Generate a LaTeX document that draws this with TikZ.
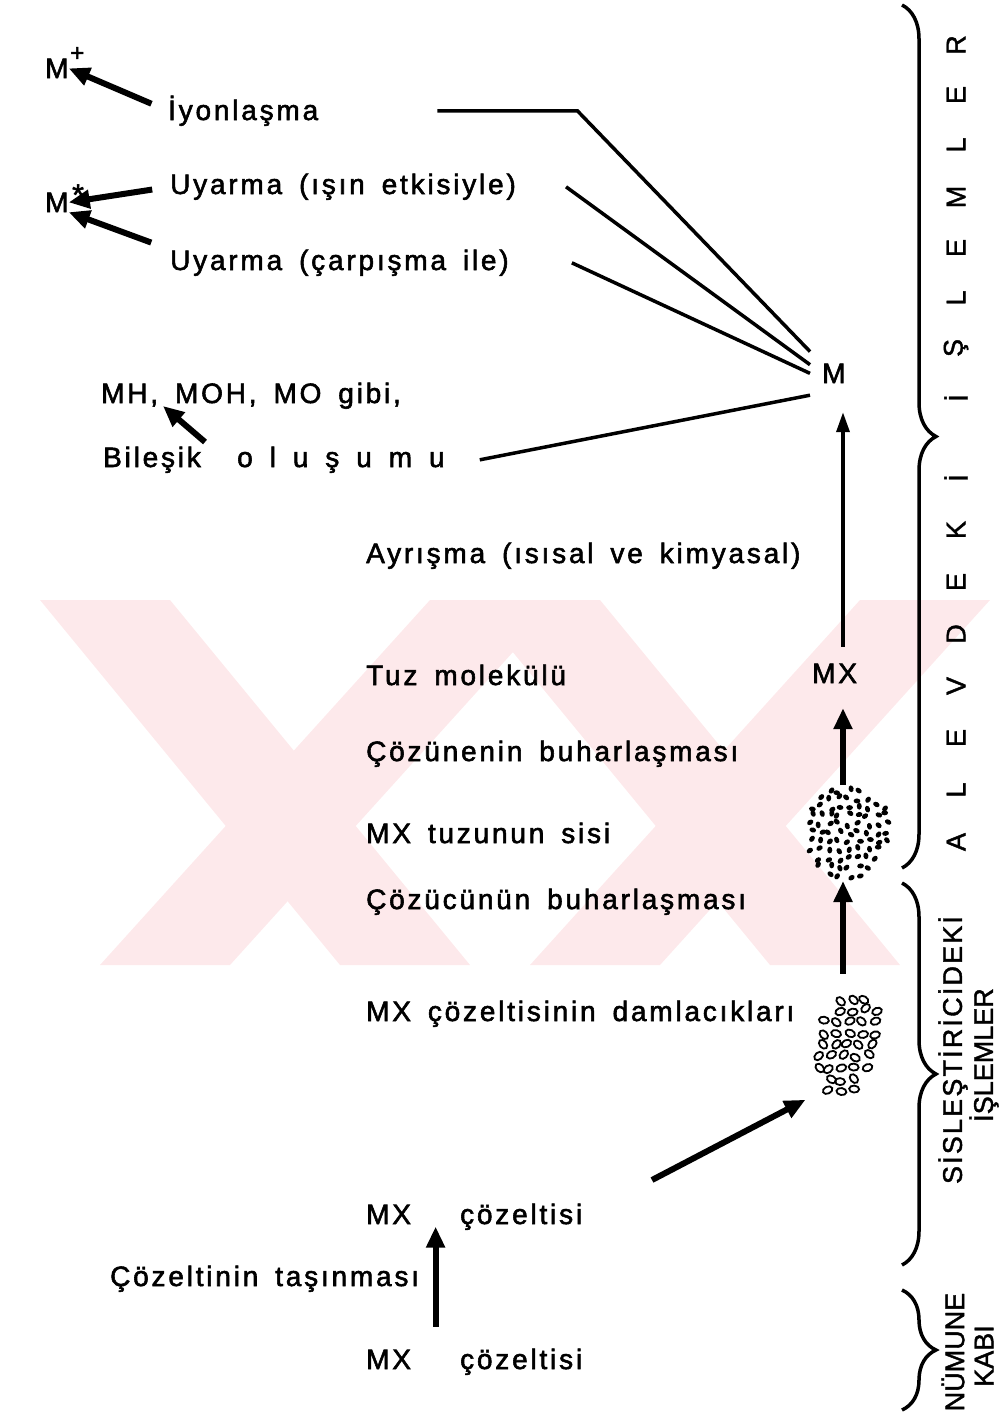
\documentclass[tikz,border=0pt]{standalone}
\usepackage{fontspec}
\setmainfont{Liberation Sans}[LetterSpace=10, WordSpace=1.6, FakeBold=2]
\newfontfamily\dikfont{Liberation Sans}[FakeBold=1.5]
\usetikzlibrary{arrows.meta, decorations.pathreplacing, calc}

\definecolor{filigran}{RGB}{253,233,235}

% tuz sisi: dolu noktalar
\newcommand{\sisbulut}{\tikz[x=1pt, y=1pt]{
  \pgfmathsetseed{11}
  \foreach \gx in {-4,...,4} {
    \foreach \gy in {-5,...,5} {
      \pgfmathsetmacro{\px}{\gx*9.5+2.8*rand}
      \pgfmathsetmacro{\py}{\gy*8.5+2.8*rand}
      \pgfmathsetmacro{\dn}{180*rnd}
      \pgfmathtruncatemacro{\ici}{(\px/43)^2+(\py/47)^2<1}
      \ifnum\ici=1 \fill[black, rotate around={\dn:(\px,\py)}] (\px,\py) ellipse (3.4 and 2.5); \fi
    }
  }
}}

% cozelti damlaciklari: halkalar
\newcommand{\damlabulut}{\tikz[x=1pt, y=1pt]{
  \pgfmathsetseed{23}
  \foreach \gx in {-3,...,3} {
    \foreach \gy in {-4,...,4} {
      \pgfmathsetmacro{\py}{\gy*11.5+2.5*rand}
      \pgfmathsetmacro{\px}{\gx*12.5+2.5*rand+0.15*\py}
      \pgfmathsetmacro{\dn}{50*rand}
      \pgfmathtruncatemacro{\ici}{((\px-0.15*\py)/34)^2+(\py/53)^2<1}
      \ifnum\ici=1 \draw[black, line width=1.8pt, rotate around={\dn:(\px,\py)}] (\px,\py) ellipse (5 and 3.5); \fi
    }
  }
}}

\begin{document}
\begin{tikzpicture}[x=1pt, y=-1pt,
    every node/.style={font=\fontsize{28}{32}\selectfont, inner sep=0pt},
    lbl/.style={anchor=base west},
    dik/.style={rotate=90, font=\dikfont\fontsize{27}{30}\selectfont},
    ok/.style={line width=6pt, -{Triangle[length=21pt, width=18pt]}},
    inceok/.style={line width=3.5pt, -{Triangle[length=20pt, width=13pt]}},
    bag/.style={line width=3.5pt},
    kume/.style={line width=3.5pt, decorate, decoration={brace, amplitude=34pt}}]
    \useasboundingbox (0,0) rectangle (1003,1413);

    % arka plandaki pembe seritler
    \fill[filigran] (40,600) -- (170,600) -- (470,965) -- (340,965) -- cycle;
    \fill[filigran] (430,600) -- (560,600) -- (230,965) -- (100,965) -- cycle;
    \fill[filigran] (470,600) -- (600,600) -- (900,965) -- (770,965) -- cycle;
    \fill[filigran] (860,600) -- (990,600) -- (660,965) -- (530,965) -- cycle;

    % sol ust: M+, M*
    \node[lbl] (mplus) at (45,78) {M};
    \node[lbl, font=\fontsize{24}{26}\selectfont] (mplusust) at (70,61) {+};
    \node[lbl] (myildiz) at (45,212) {M};
    \node[lbl, font=\fontsize{30}{32}\selectfont] (myildizust) at (72,205) {*};

    \node[lbl] (iyon) at (168,120) {İyonlaşma};
    \node[lbl] (uyarma1) at (170,194) {Uyarma (ışın etkisiyle)};
    \node[lbl] (uyarma2) at (170,270) {Uyarma (çarpışma ile)};
    \node[lbl] (bilesik1) at (101,403) {MH, MOH, MO gibi,};
    \node[lbl] (bilesik2) at (103,467) {Bileşik};
    \node[lbl] (olusum) at (237,467) {o l u ş u m u};
    \coordinate (bilesikkuyruk) at (205,442);
    \coordinate (bilesikok) at (163,406);

    % orta sutun
    \node[lbl, inner sep=12pt] (m) at (810,383) {M};
    \node[lbl] (ayrisma) at (366,563) {Ayrışma (ısısal ve kimyasal)};
    \node[lbl] (tuz) at (366,685) {Tuz molekülü};
    \node[lbl] (mx) at (812,683) {MX};
    \node[lbl] (cozunen) at (366,761) {Çözünenin buharlaşması};
    \node[lbl] (sis) at (366,843) {MX tuzunun sisi};
    \node[lbl] (cozucu) at (366,909) {Çözücünün buharlaşması};
    \node[lbl] (damla) at (366,1021) {MX çözeltisinin damlacıkları};
    \node[lbl] (mxc1) at (366,1224) {MX};
    \node[lbl] (cozelti1) at (460,1224) {çözeltisi};
    \node[lbl] (tasinma) at (110,1286) {Çözeltinin taşınması};
    \node[lbl] (mxc2) at (366,1369) {MX};
    \node[lbl] (cozelti2) at (460,1369) {çözeltisi};

    \node (sisbulut) at (849,833) {\sisbulut};
    \node (damlabulut) at (848,1045) {\damlabulut};
    \coordinate (eksen) at (843,0);
    \coordinate (puskurtme) at (652,1180);

    % M* ve M+ oklari
    \draw[ok, shorten <=18pt] (iyon.west) -- (mplus.east);
    \draw[ok, shorten <=18pt] (uyarma1.west) -- (myildiz.east);
    \draw[ok, shorten <=20pt] (uyarma2.north west) -- (myildiz.south east);
    \draw[ok] (bilesikkuyruk) -- (bilesikok);

    % M'ye baglanan cizgiler
    \draw[bag] ([xshift=119pt]iyon.east) -- ++(140,0) -- (m.north west);
    \draw[bag] ([xshift=50pt]uyarma1.east) -- (m.160);
    \draw[bag] ([xshift=63pt]uyarma2.east) -- (m.west);
    \draw[bag] ([xshift=35pt]olusum.east) -- (m.south west);

    % dikey oklar
    \draw[inceok, shorten <=17pt, shorten >=17pt] (mx.north -| eksen) -- (m.south -| eksen);
    \draw[ok, shorten >=25pt] (sisbulut.north -| eksen) -- (mx.south -| eksen);
    \draw[ok, shorten <=20pt] (damlabulut.north -| eksen) -- (sisbulut.south -| eksen);
    \draw[ok, shorten >=8pt] (puskurtme) -- (damlabulut.south west);
    \draw[ok] ($(mxc2.east)!.5!(cozelti2.west)+(0,-34)$) -- ($(mxc1.east)!.5!(cozelti1.west)+(0,11)$);

    % kume parantezleri
    \draw[kume] (902,5) -- (902,868);
    \draw[kume] (902,883) -- (902,1265);
    \draw[kume] (902,1290) -- (902,1410);

    % dikey yazilar
    \foreach \harf/\yy in {A/842, L/790, E/738, V/686, D/634, E/582, K/530, İ/478,
        İ/398, Ş/348, L/298, E/248, M/197, L/145, E/95, R/45}
      \node[dik] (harf-\yy) at (956,\yy) {\harf};
    \node[dik, font=\dikfont\addfontfeature{LetterSpace=8}\fontsize{27}{30}\selectfont] (sisles) at (953,1050) {SİSLEŞTİRİCİDEKİ};
    \node[dik] (islemler) at (984,1055) {İŞLEMLER};
    \node[dik] (numune) at (953,1352) {NÜMUNE};
    \node[dik] (kabi) at (984,1356) {KABI};
\end{tikzpicture}
\end{document}
